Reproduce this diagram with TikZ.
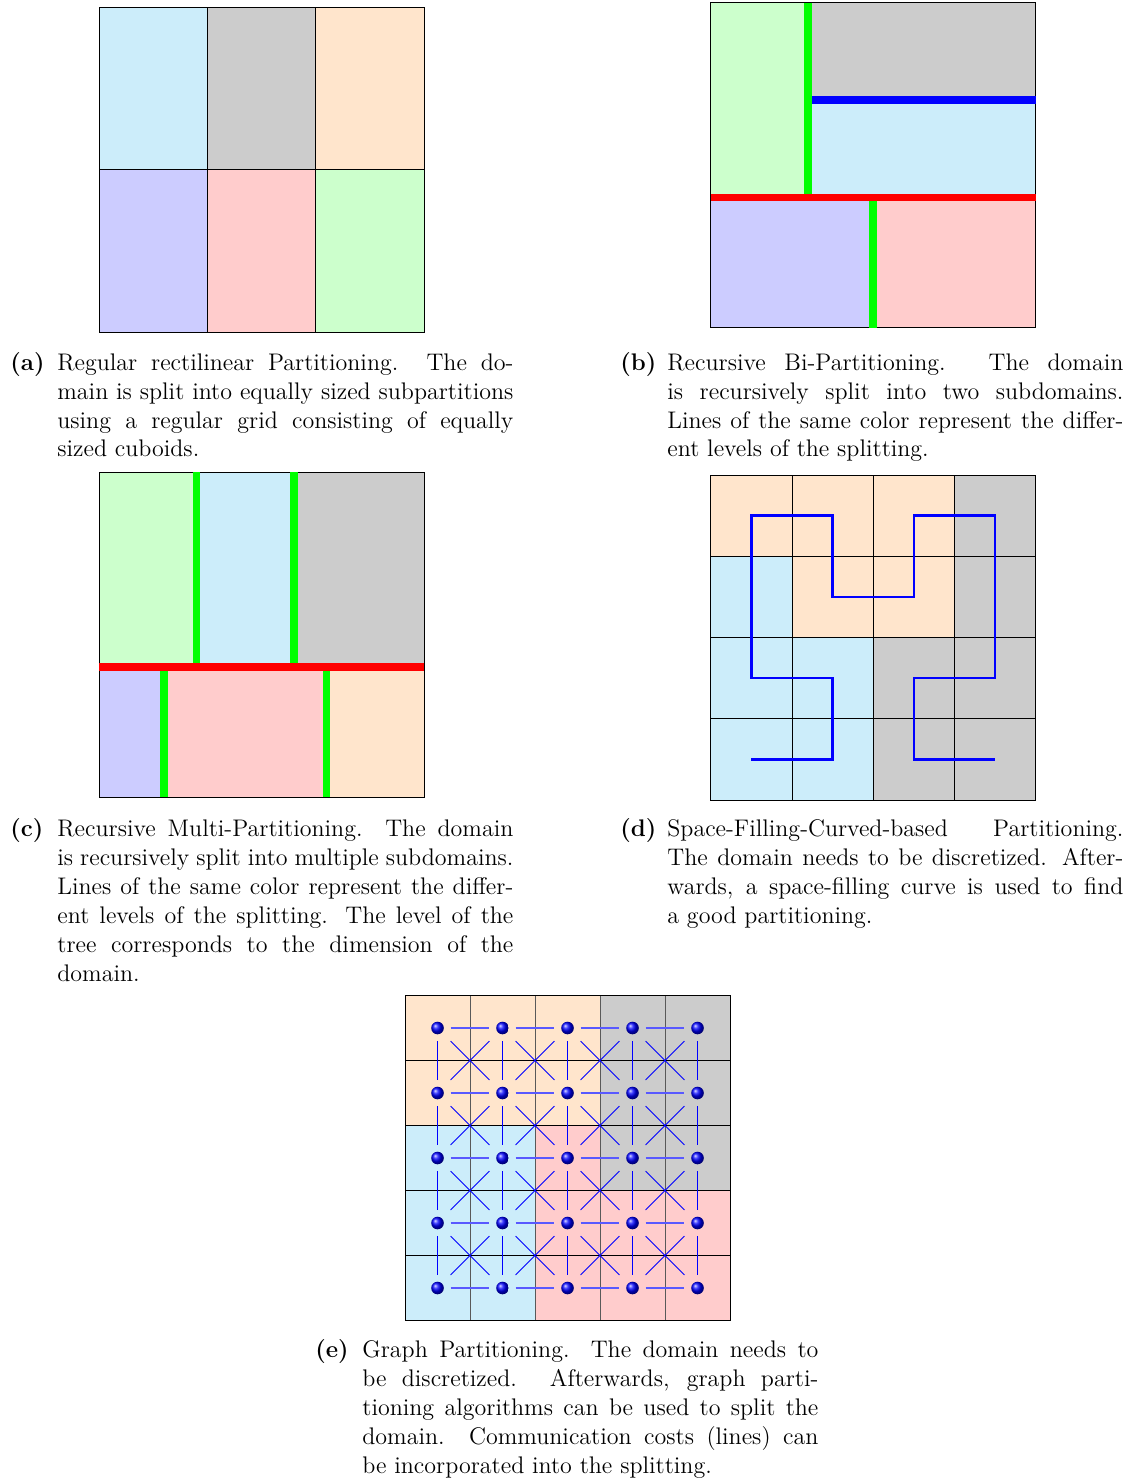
\documentclass[tikz,border=0pt]{standalone}
\usetikzlibrary{calc}
\definecolor{CyanClr}{RGB}{204,237,250}
\definecolor{GrayClr}{RGB}{204,204,204}
\definecolor{OrangeClr}{RGB}{255,229,204}
\definecolor{BlueClr}{RGB}{204,204,255}
\definecolor{RedClr}{RGB}{255,204,204}
\definecolor{GreenClr}{RGB}{204,255,204}

\tikzset{
  cell/.style={draw=black,line width=.4pt},
  cut/.style={line width=3.8pt},
  sfcline/.style={blue,line width=1.3pt},
  vertex/.style={rectangle,inner sep=0pt,minimum size=12.7pt},
  gline/.style={blue,line width=.5pt},
  hgline/.style={blue!65,line width=.75pt},
  capt/.style={anchor=base west,inner sep=0pt,text width=251.5pt,align=justify,
    font=\fontsize{12}{14.5}\selectfont}
}
\newcommand\partcapt[2]{\noindent\makebox[23.5pt][l]{\textbf{(#1)}}%
  \parbox[t]{228pt}{\leftskip=0pt\rightskip=0pt\parfillskip=0pt plus 1fil\relax #2}}

\begin{document}
\begin{tikzpicture}[x=.5pt,y=-.5pt]
\useasboundingbox (0,0) rectangle (1140,1481);

\begin{scope}[shift={(99,7)},x=54.1667pt,y=-81.25pt]
\foreach \clr [count=\cc from 0] in {CyanClr,GrayClr,OrangeClr}
  \draw[cell,fill=\clr] (\cc,0) rectangle ++(1,1);
\foreach \clr [count=\cc from 0] in {BlueClr,RedClr,GreenClr}
  \draw[cell,fill=\clr] (\cc,1) rectangle ++(1,1);
\end{scope}

\begin{scope}[shift={(710.7,2.7)},x=162.5pt,y=-162.5pt]
\fill[GreenClr] (0,0) rectangle (.3,.6);
\fill[GrayClr] (.3,0) rectangle (1,.3);
\fill[CyanClr] (.3,.3) rectangle (1,.6);
\fill[BlueClr] (0,.6) rectangle (.5,1);
\fill[RedClr] (.5,.6) rectangle (1,1);
\draw[cell] (0,0) rectangle (1,1);
\draw[cut,blue] (.3,.3) -- (1,.3);
\draw[cut,green] (.3,0) -- (.3,.6) (.5,.6) -- (.5,1);
\draw[cut,red] (0,.6) -- (1,.6);
\end{scope}

\begin{scope}[shift={(99,472)},x=162.5pt,y=-162.5pt]
\fill[GreenClr] (0,0) rectangle (.3,.6);
\fill[CyanClr] (.3,0) rectangle (.6,.6);
\fill[GrayClr] (.6,0) rectangle (1,.6);
\fill[BlueClr] (0,.6) rectangle (.2,1);
\fill[RedClr] (.2,.6) rectangle (.7,1);
\fill[OrangeClr] (.7,.6) rectangle (1,1);
\draw[cell] (0,0) rectangle (1,1);
\draw[cut,green] (.3,0) -- (.3,.6) (.6,0) -- (.6,.6) (.2,.6) -- (.2,1) (.7,.6) -- (.7,1);
\draw[cut,red] (0,.6) -- (1,.6);
\end{scope}

\begin{scope}[shift={(710.7,475)},x=40.625pt,y=-40.625pt]
\foreach \row [count=\rr from 0] in {{OrangeClr,OrangeClr,OrangeClr,GrayClr},
    {CyanClr,OrangeClr,OrangeClr,GrayClr},{CyanClr,CyanClr,GrayClr,GrayClr},
    {CyanClr,CyanClr,GrayClr,GrayClr}}
  \foreach \clr [count=\cc from 0] in \row
    \draw[cell,fill=\clr] (\cc,\rr) rectangle ++(1,1);
\draw[sfcline] (.5,3.5) -- (1.5,3.5) -- (1.5,2.5) -- (.5,2.5) -- (.5,.5) -- (1.5,.5)
  -- (1.5,1.5) -- (2.5,1.5) -- (2.5,.5) -- (3.5,.5) -- (3.5,2.5) -- (2.5,2.5)
  -- (2.5,3.5) -- (3.5,3.5);
\end{scope}

\begin{scope}[shift={(405,995.5)},x=32.5pt,y=-32.5pt]
\foreach \row [count=\rr from 0] in {{OrangeClr,OrangeClr,OrangeClr,GrayClr,GrayClr},
    {OrangeClr,OrangeClr,OrangeClr,GrayClr,GrayClr},{CyanClr,CyanClr,RedClr,GrayClr,GrayClr},
    {CyanClr,CyanClr,RedClr,RedClr,RedClr},{CyanClr,CyanClr,RedClr,RedClr,RedClr}}
  \foreach \clr [count=\cc from 0] in \row
    \fill[\clr] (\cc,\rr) rectangle ++(1,1);
\foreach \kk in {0,...,5} {
  \draw[cell] (0,\kk) -- (5,\kk);
  \draw[cell,draw=black!65] (\kk,0) -- (\kk,5);
}
\draw[cell] (0,0) rectangle (5,5);

\foreach \ii in {0,...,4}
  \foreach \jj in {0,...,4}
    \node[vertex] (v-\ii-\jj) at (\jj+.5,\ii+.5) {};

\foreach \ii in {0,...,4}
  \foreach \jj in {0,...,3} {
    \pgfmathtruncatemacro\nn{\jj+1}
    \draw[hgline] (v-\ii-\jj) -- (v-\ii-\nn);
    \draw[gline] (v-\jj-\ii) -- (v-\nn-\ii);
  }
\foreach \ii in {0,...,3}
  \foreach \jj in {0,...,3} {
    \pgfmathtruncatemacro\mm{\ii+1}
    \pgfmathtruncatemacro\nn{\jj+1}
    \draw[gline] (v-\ii-\jj) -- (v-\mm-\nn) (v-\ii-\nn) -- (v-\mm-\jj);
  }

\foreach \ii in {0,...,4}
  \foreach \jj in {0,...,4}
    \shade[ball color=blue] (v-\ii-\jj) circle (3.15pt);
\end{scope}

\node[capt] (capA) at (10,370) {\partcapt{a}{Regular rectilinear Partitioning. The do-\linebreak
  main is split into equally sized subpartitions\linebreak using a regular grid consisting of
  equally\linebreak sized cuboids.}};
\node[capt] (capB) at (620,370) {\partcapt{b}{Recursive Bi-Partitioning. The domain\linebreak
  is recursively split into two subdomains.\linebreak Lines of the same color represent the
  differ-\linebreak ent levels of the splitting.}};
\node[capt] (capC) at (10,836.5) {\partcapt{c}{Recursive Multi-Partitioning. The domain\linebreak
  is recursively split into multiple subdomains.\linebreak Lines of the same color represent
  the differ-\linebreak ent levels of the splitting. The level of the\linebreak tree corresponds
  to the dimension of the\linebreak domain.}};
\node[capt] (capD) at (620,836.5) {\partcapt{d}{Space-Filling-Curved-based Partitioning.\linebreak
  The domain needs to be discretized. After-\linebreak wards, a space-filling curve is used to
  find\linebreak a good partitioning.}};
\node[capt] (capE) at (315,1357.5) {\partcapt{e}{Graph Partitioning. The domain needs to\linebreak
  be discretized. Afterwards, graph parti-\linebreak tioning algorithms can be used to split
  the\linebreak domain. Communication costs (lines) can\linebreak be incorporated into the
  splitting.}};

\end{tikzpicture}
\end{document}
